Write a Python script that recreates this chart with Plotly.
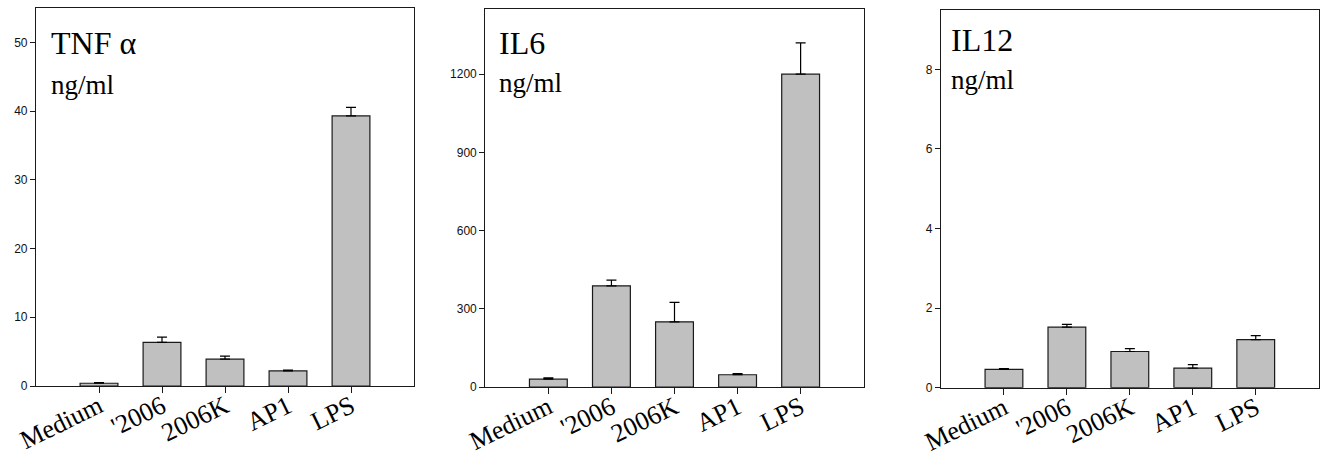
import plotly.graph_objects as go

# Stimulation conditions shared by all three cytokine panels
categories = ["Medium", "'2006", "2006K", "AP1", "LPS"]

# TNF alpha (ng/ml): mean and SEM
tnf_mean = [0.4, 6.35, 3.9, 2.2, 39.3]
tnf_err = [0.1, 0.75, 0.45, 0.12, 1.25]

# IL6 (ng/ml)
il6_mean = [30, 388, 250, 47, 1200]
il6_err = [5, 22, 75, 4, 120]

# IL12 (ng/ml)
il12_mean = [0.46, 1.52, 0.91, 0.49, 1.21]
il12_err = [0.02, 0.07, 0.07, 0.09, 0.1]

panel_titles = ["TNF α", "IL6", "IL12"]
unit_label = "ng/ml"
y_tickvals = [[0, 10, 20, 30, 40, 50], [0, 300, 600, 900, 1200], [0, 2, 4, 6, 8]]
y_ranges = [[0, 55], [0, 1450], [0, 9.5]]

W, H = 1326, 456

# pixel boxes of each panel: (left, right, top, bottom)
boxes = [(36, 414, 8, 386), (485.3, 863.7, 9, 387), (941, 1318.7, 9.7, 387.7)]
# title x offset, title centre y, unit centre y (px)
title_offsets = [(13, 43, 85), (12, 43, 83), (8, 40, 80)]

fig = go.Figure()
series = [(tnf_mean, tnf_err), (il6_mean, il6_err), (il12_mean, il12_err)]

layout = dict(
    width=W,
    height=H,
    margin=dict(l=0, r=0, t=0, b=0, autoexpand=False),
    paper_bgcolor="white",
    plot_bgcolor="white",
    showlegend=False,
    annotations=[],
)

for i, ((mean, err), box) in enumerate(zip(series, boxes)):
    n = i + 1
    xa = "x" if n == 1 else f"x{n}"
    ya = "y" if n == 1 else f"y{n}"
    fig.add_trace(
        go.Bar(
            x=categories,
            y=mean,
            width=0.6,
            marker=dict(color="#c0c0c0", line=dict(color="#1a1a1a", width=1.2)),
            error_y=dict(
                type="data",
                symmetric=False,
                array=err,
                arrayminus=[0] * len(err),
                color="black",
                thickness=1.2,
                width=5,
            ),
            xaxis=xa,
            yaxis=ya,
        )
    )
    left, right, top, bottom = box
    xdom = [left / W, right / W]
    ydom = [1 - bottom / H, 1 - top / H]
    xkey = "xaxis" if n == 1 else f"xaxis{n}"
    ykey = "yaxis" if n == 1 else f"yaxis{n}"
    layout[xkey] = dict(
        domain=xdom,
        anchor=ya,
        range=[-1, 5],
        type="category",
        automargin=False,
        showline=True,
        linecolor="#1a1a1a",
        linewidth=1.2,
        mirror=True,
        ticks="outside",
        ticklen=6,
        tickcolor="#1a1a1a",
        tickangle=-26,
        ticklabelstandoff=-12,
        tickfont=dict(family="Liberation Serif", size=26, color="black"),
        showgrid=False,
        zeroline=False,
    )
    layout[ykey] = dict(
        domain=ydom,
        anchor=xa,
        range=y_ranges[i],
        tickmode="array",
        tickvals=y_tickvals[i],
        automargin=False,
        showline=True,
        linecolor="#1a1a1a",
        linewidth=1.2,
        mirror=True,
        ticks="outside",
        ticklen=5,
        tickcolor="#1a1a1a",
        tickfont=dict(family="Liberation Sans", size=12, color="#111111"),
        showgrid=False,
        zeroline=False,
    )
    dx, ty, uy = title_offsets[i]
    layout["annotations"].append(
        dict(
            text=panel_titles[i],
            xref="paper",
            yref="paper",
            x=(left + dx) / W,
            y=1 - ty / H,
            xanchor="left",
            yanchor="middle",
            showarrow=False,
            font=dict(family="Liberation Serif", size=32, color="black"),
        )
    )
    layout["annotations"].append(
        dict(
            text=unit_label,
            xref="paper",
            yref="paper",
            x=(left + dx) / W,
            y=1 - uy / H,
            xanchor="left",
            yanchor="middle",
            showarrow=False,
            font=dict(family="Liberation Serif", size=27, color="black"),
        )
    )

fig.update_layout(**layout)
fig.write_html("out.html")
